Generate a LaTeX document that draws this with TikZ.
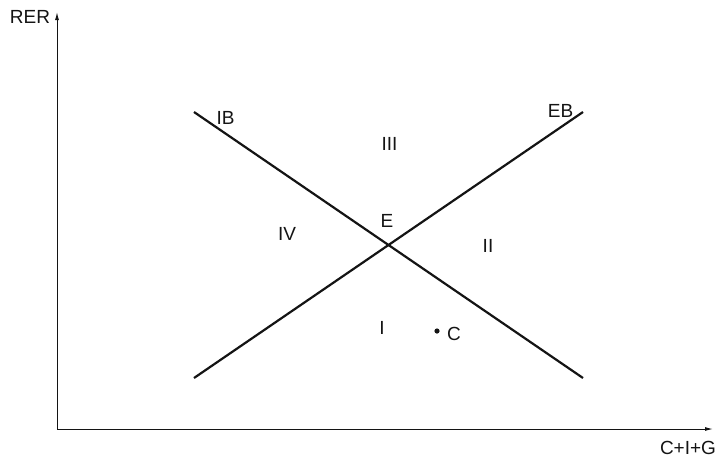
\documentclass[tikz,border=0pt]{standalone}
\usepackage{fontspec}
\setmainfont{Liberation Sans}
\usepackage{tikz}
\usetikzlibrary{arrows.meta,positioning,calc}
\definecolor{linegray}{RGB}{20,20,20}

\begin{document}
\begin{tikzpicture}[x=1pt,y=-1pt,
    axis/.style={line width=1pt, linegray, -{Latex[length=8pt,width=4pt]}},
    curve/.style={line width=2.2pt, linegray},
    lbl/.style={font=\fontsize{19}{22}\selectfont, text=linegray, inner sep=0pt}]
        \useasboundingbox (0,0) rectangle (721,459);
        % axes
        \coordinate (O) at (57,429);
        \coordinate (ytop) at (57,12);
        \coordinate (xend) at (713,429);
        \draw[axis] (O) -- (ytop);
        \draw[axis] (O) -- (xend);
        \node[lbl] (rer) at (30,17) {RER};
        \node[lbl] (cig) at (688,448) {C+I+G};
        % schedules
        \coordinate (ibstart) at (194,112);
        \coordinate (ibend) at (583,378);
        \coordinate (ebstart) at (194,378);
        \coordinate (ebend) at (583,112);
        \draw[curve] (ibstart) -- (ibend);
        \draw[curve] (ebstart) -- (ebend);
        \node[lbl] (ib) at (225.5,117.5) {IB};
        \node[lbl] (eb) at (560.5,111) {EB};
        % zones
        \node[lbl] (z3) at (389.5,144) {III};
        \node[lbl] (e) at (387,221) {E};
        \node[lbl] (z4) at (287,233.5) {IV};
        \node[lbl] (z2) at (488,246) {II};
        \node[lbl] (z1) at (382,328) {I};
        \fill[linegray] (437,331) circle (2.6pt) coordinate (cpt);
        \node[lbl] (c) at (454,334) {C};
    \end{tikzpicture}
\end{document}
